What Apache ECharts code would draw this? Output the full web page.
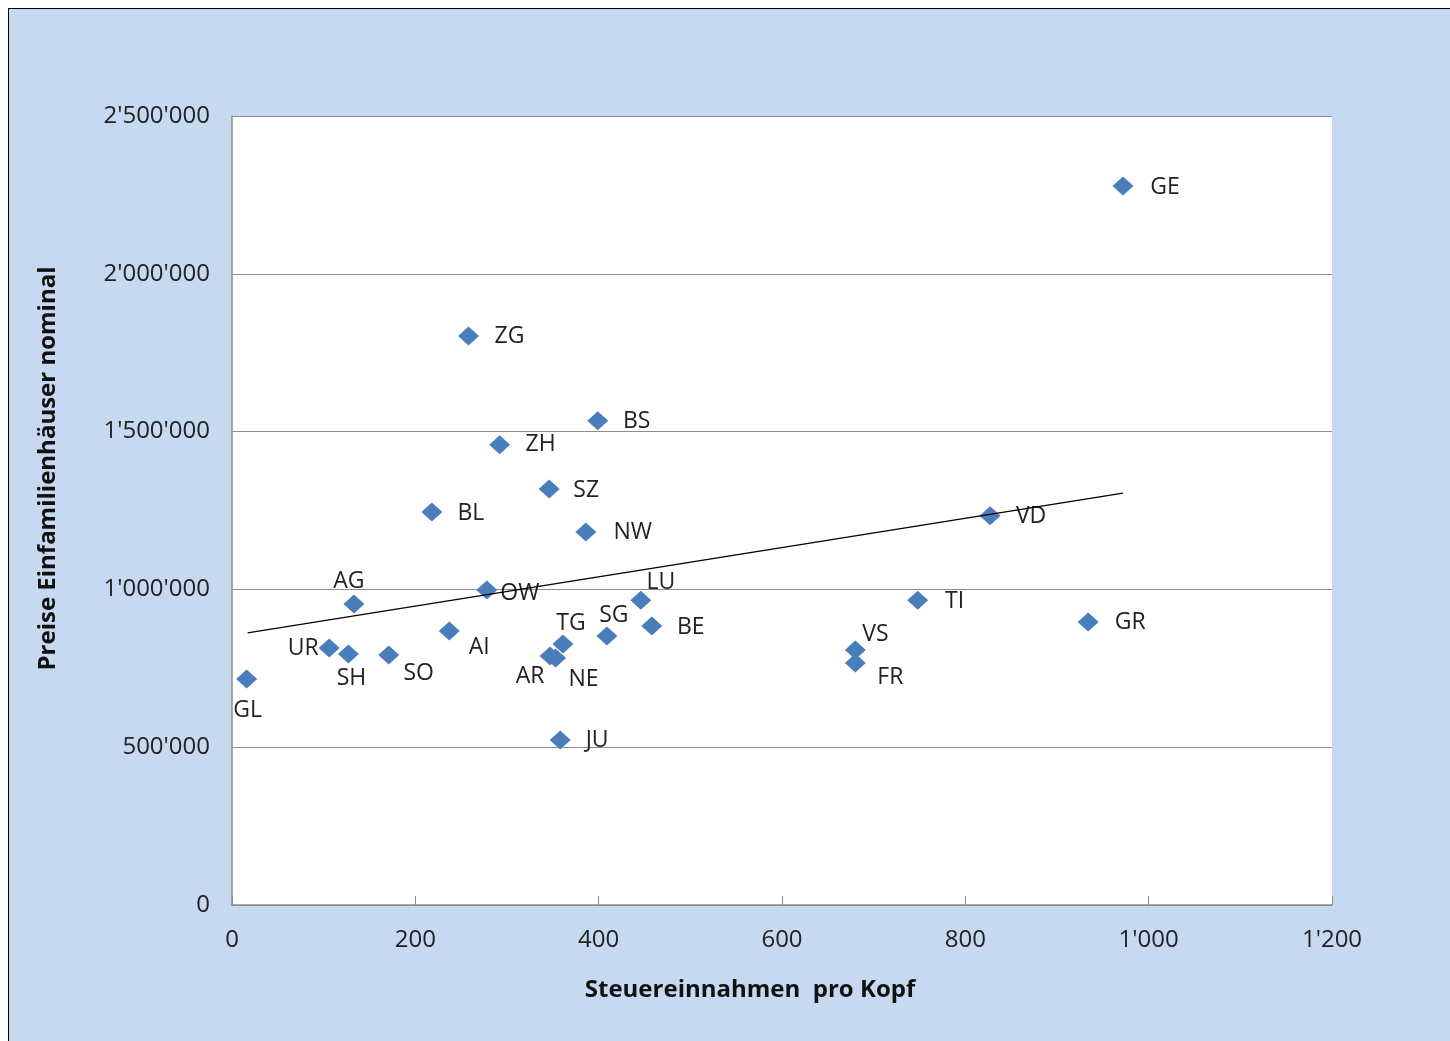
<!DOCTYPE html>
<html>
<head>
<meta charset="utf-8">
<script src="https://cdn.jsdelivr.net/npm/echarts@6/dist/echarts.min.js"></script>
<style>
  html, body { margin: 0; padding: 0; background: #ffffff; }
  #frame { position: absolute; left: 8px; top: 8px; width: 1442px; height: 1033px;
           background: #c6d9f0; border-left: 1px solid #000; border-top: 1px solid #000; box-sizing: border-box; }
  #chart { position: absolute; left: 0; top: 0; width: 1450px; height: 1041px; }
</style>
</head>
<body>
<div id="frame"></div>
<div id="chart"></div>
<script>
// ---- data ----
const cantons = ['GE','ZG','BS','ZH','SZ','BL','NW','VD','OW','AG','LU','TI','GR','AI','BE','SG','TG','UR','SH','SO','AR','NE','VS','FR','GL','JU'];
const taxPerCapita = [972,258,399,292,346,218,386,827,278,133,446,748,934,237,458,409,361,106,127,171,347,353,680,680,16,358];
const housePrice = [2278000,1803000,1534000,1458000,1318000,1245000,1182000,1233000,998000,954000,966000,966000,897000,868000,884000,852000,827000,814000,795000,792000,789000,783000,808000,767000,716000,523000];
const trendX = [17, 972];
const trendY = [862000, 1305000];
const xTicks = [0, 200, 400, 600, 800, 1000, 1200];
const yTicks = [0, 500000, 1000000, 1500000, 2000000, 2500000];

// ---- label placement (styling) ----
const labelOffsets = {
  GE:[42,1], ZG:[41,0], BS:[39,1], ZH:[41,0], SZ:[37,1], BL:[39,1], NW:[47,0], VD:[41,1],
  OW:[33,3], AG:[-5,-22], LU:[20,-18], TI:[37,1], GR:[42,1], AI:[30,16], BE:[39,1],
  SG:[7,-21], TG:[8,-21], UR:[-26,0], SH:[3,24], SO:[30,18], AR:[-20,20], NE:[28,22],
  VS:[20,-16], FR:[35,15], GL:[1,31], JU:[37,1]
};

function fmt(v) {
  return String(Math.round(v)).replace(/\B(?=(\d{3})+(?!\d))/g, "'");
}

const FONT = 'Open Sans';
const chart = echarts.init(document.getElementById('chart'), null, { renderer: 'canvas' });

const scatterData = cantons.map((c, i) => ({
  name: c,
  value: [taxPerCapita[i], housePrice[i]],
  label: { offset: labelOffsets[c] }
}));

chart.setOption({
  backgroundColor: 'transparent',
  animation: false,
  grid: { left: 232, top: 116, right: 118, bottom: 136, show: true, backgroundColor: '#ffffff', borderWidth: 0 },
  xAxis: {
    type: 'value', min: xTicks[0], max: xTicks[xTicks.length - 1], interval: 200,
    name: 'Steuereinnahmen  pro Kopf', nameLocation: 'middle', nameGap: 73,
    nameTextStyle: { fontFamily: FONT, fontSize: 24, fontWeight: 'bold', color: '#111', padding: [0, 64, 0, 0] },
    axisLine: { show: true, lineStyle: { color: '#8c8c8c', width: 1.5 } },
    axisTick: { show: true, inside: true, length: 9, lineStyle: { color: '#8c8c8c' } },
    axisLabel: { fontFamily: FONT, fontSize: 24, color: '#222', margin: 23, formatter: fmt },
    splitLine: { show: false }
  },
  yAxis: {
    type: 'value', min: yTicks[0], max: yTicks[yTicks.length - 1], interval: 500000,
    name: 'Preise Einfamilienhäuser nominal', nameLocation: 'middle', nameGap: 172, nameRotate: 90,
    nameTextStyle: { fontFamily: FONT, fontSize: 24, fontWeight: 'bold', color: '#111', padding: [0, 0, 0, 84] },
    axisLine: { show: true, lineStyle: { color: '#8c8c8c', width: 1.5 } },
    axisTick: { show: false },
    axisLabel: { fontFamily: FONT, fontSize: 24, color: '#222', margin: 22, formatter: fmt },
    splitLine: { show: true, lineStyle: { color: '#8c8c8c', width: 1 } }
  },
  series: [
    {
      type: 'scatter',
      symbol: 'diamond',
      symbolSize: [21, 19],
      itemStyle: { color: '#4a7ebb', opacity: 1 },
      label: {
        show: true, position: 'inside', formatter: '{b}',
        fontFamily: FONT, fontSize: 23, color: '#222', align: 'center', verticalAlign: 'middle'
      },
      data: scatterData,
      z: 3
    },
    {
      type: 'line',
      data: trendX.map((x, i) => [x, trendY[i]]),
      symbol: 'none',
      lineStyle: { color: '#000', width: 1.2 },
      z: 4,
      silent: true
    }
  ]
});
</script>
</body>
</html>
